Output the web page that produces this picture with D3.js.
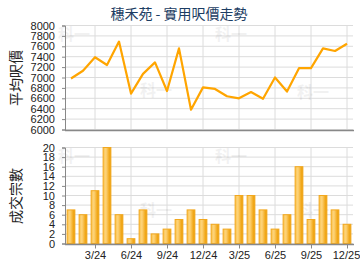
<!DOCTYPE html>
<html>
<head>
<meta charset="utf-8">
<script src="https://cdn.jsdelivr.net/npm/d3@7"></script>
<style>
  body { margin: 0; background: #fff; }
  text { font-family: "Liberation Sans", Arial, sans-serif; }
  .cjk { font-family: "Noto Sans CJK TC", "Noto Sans CJK SC", sans-serif; }
</style>
</head>
<body>
<div id="chart"></div>
<script>
// months Jan 2024 .. Dec 2025
var months = ["1/24","2/24","3/24","4/24","5/24","6/24","7/24","8/24","9/24","10/24","11/24","12/24",
              "1/25","2/25","3/25","4/25","5/25","6/25","7/25","8/25","9/25","10/25","11/25","12/25"];
var tickLabels = ["3/24","6/24","9/24","12/24","3/25","6/25","9/25","12/25"];
// average price per sq ft
var avgPrice = [6980,7130,7390,7240,7690,6690,7070,7290,6740,7560,6380,6810,
                6780,6640,6600,6720,6590,7000,6730,7180,7180,7560,7510,7650];
// number of transactions
var deals = [7,6,11,20,6,1,7,2,3,5,7,5,4,3,10,10,7,3,6,16,5,10,7,4];
var priceTicks = d3.range(6000, 8001, 200);
var dealTicks = d3.range(0, 21, 2);

var W = 360, H = 270;
var left = 65, right = 353;

var svg = d3.select("#chart").append("svg")
    .attr("width", W).attr("height", H);

// bar gradient
var grad = svg.append("defs").append("linearGradient")
    .attr("id", "barGrad").attr("x1", "0").attr("x2", "1").attr("y1", "0").attr("y2", "0");
grad.append("stop").attr("offset", "0%").attr("stop-color", "#fbc24a");
grad.append("stop").attr("offset", "35%").attr("stop-color", "#fdd47c");
grad.append("stop").attr("offset", "75%").attr("stop-color", "#f3ac22");
grad.append("stop").attr("offset", "100%").attr("stop-color", "#e99a00");

var x = d3.scalePoint().domain(months).range([left, right]).padding(0.5);
var xb = d3.scaleBand().domain(months).range([left, right]).paddingInner(0.27).paddingOuter(0.135);

// title
svg.append("text")
    .attr("class", "cjk")
    .attr("x", 179).attr("y", 19)
    .attr("text-anchor", "middle")
    .style("font-size", "14px")
    .style("fill", "#1c3d63")
    .text("穗禾苑 - 實用呎價走勢");

// watermark
function watermark(g, pts) {
  pts.forEach(function(p) {
    g.append("text").attr("class", "cjk")
      .attr("x", p[0]).attr("y", p[1])
      .style("font-size", "16px").style("font-weight", "bold")
      .style("fill", "#000").style("opacity", 0.05)
      .text("科一");
  });
}

function styleTicks(ax) {
  ax.select(".domain").style("stroke", "#888");
  ax.selectAll(".tick line").style("stroke", "#888");
  ax.selectAll("text").style("font-size", "11px").style("fill", "#222")
    .style("font-family", "'Liberation Sans', Arial, sans-serif");
}

////////// top: price line
var y1 = d3.scaleLinear().domain([6000, 8000]).range([129.5, 25.5]);

var gTop = svg.append("g");
gTop.selectAll(".hg").data(priceTicks).enter().append("line")
    .attr("x1", left).attr("x2", right)
    .attr("y1", function(d) { return y1(d); }).attr("y2", function(d) { return y1(d); })
    .style("stroke", "#dcdcdc").style("stroke-width", 1);
gTop.selectAll(".vg").data(tickLabels).enter().append("line")
    .attr("x1", function(d) { return x(d); }).attr("x2", function(d) { return x(d); })
    .attr("y1", y1(8000)).attr("y2", y1(6000))
    .style("stroke", "#dcdcdc").style("stroke-width", 1);

watermark(gTop, [[58, 40], [140, 96], [215, 40], [297, 98]]);

var yAxis1 = gTop.append("g")
    .attr("transform", "translate(" + left + ",0)")
    .call(d3.axisLeft(y1).tickValues(priceTicks).tickFormat(d3.format("d")).tickSize(3).tickPadding(7));
styleTicks(yAxis1);

gTop.append("line")
    .attr("x1", left).attr("x2", right + 1)
    .attr("y1", y1(6000) + 1).attr("y2", y1(6000) + 1)
    .style("stroke", "#888").style("stroke-width", 1.5);

gTop.append("path")
    .datum(avgPrice)
    .attr("d", d3.line()
        .x(function(d, i) { return x(months[i]); })
        .y(function(d) { return y1(d); }))
    .style("fill", "none")
    .style("stroke", "#ffa500")
    .style("stroke-width", 2.2)
    .style("stroke-linejoin", "round");

svg.append("text")
    .attr("class", "cjk")
    .attr("transform", "translate(21,78) rotate(-90)")
    .attr("text-anchor", "middle")
    .style("font-size", "14px").style("fill", "#222")
    .text("平均呎價");

////////// bottom: deals bars
var y2 = d3.scaleLinear().domain([0, 20]).range([243.5, 147.5]);

var gBot = svg.append("g");
gBot.selectAll(".hg").data(dealTicks).enter().append("line")
    .attr("x1", left).attr("x2", right)
    .attr("y1", function(d) { return y2(d); }).attr("y2", function(d) { return y2(d); })
    .style("stroke", "#dcdcdc").style("stroke-width", 1);
gBot.selectAll(".vg").data(tickLabels).enter().append("line")
    .attr("x1", function(d) { return x(d); }).attr("x2", function(d) { return x(d); })
    .attr("y1", y2(20)).attr("y2", y2(0))
    .style("stroke", "#dcdcdc").style("stroke-width", 1);

watermark(gBot, [[58, 162], [140, 216], [215, 162], [297, 216]]);

gBot.selectAll(".bar").data(deals).enter().append("rect")
    .attr("class", "bar")
    .attr("x", function(d, i) { return xb(months[i]) + 0.5; })
    .attr("y", function(d) { return y2(d); })
    .attr("width", xb.bandwidth() - 1)
    .attr("height", function(d) { return y2(0) - y2(d); })
    .style("fill", "url(#barGrad)")
    .style("stroke", "#f2a81e")
    .style("stroke-width", 1);

var yAxis2 = gBot.append("g")
    .attr("transform", "translate(" + left + ",0)")
    .call(d3.axisLeft(y2).tickValues(dealTicks).tickSize(3).tickPadding(7));
styleTicks(yAxis2);

var xAxis = gBot.append("g")
    .attr("transform", "translate(0," + (y2(0) + 1) + ")")
    .call(d3.axisBottom(x).tickValues(tickLabels).tickSize(4).tickPadding(3));
styleTicks(xAxis);
xAxis.select(".domain").attr("d", "M" + left + ",0H" + (right + 1))
    .style("stroke-width", 1.5);
xAxis.selectAll(".tick text").filter(function(d) { return d === "12/25"; })
    .attr("dx", "-1");

svg.append("text")
    .attr("class", "cjk")
    .attr("transform", "translate(21,196) rotate(-90)")
    .attr("text-anchor", "middle")
    .style("font-size", "14px").style("fill", "#222")
    .text("成交宗數");
</script>
</body>
</html>
